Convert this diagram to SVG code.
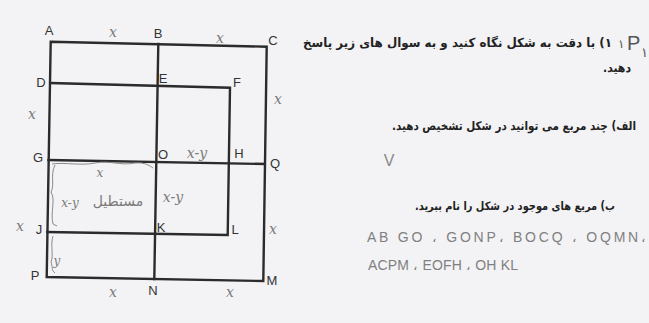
<svg xmlns="http://www.w3.org/2000/svg" width="649" height="323" viewBox="0 0 649 323">
<style>
.ln{stroke:#2b2b2b;stroke-width:2.4;fill:none;stroke-linecap:square;stroke-linejoin:miter}
.lb{font-family:"Liberation Sans",Arial,sans-serif;font-size:13px;fill:#333;text-anchor:middle}
.hw{font-family:"DejaVu Serif",serif;font-style:italic;font-size:14px;fill:#7a7a7a;text-anchor:middle}
.hwl{font-family:"Liberation Sans",Arial,sans-serif;font-size:14px;fill:#808080}
.hwp{stroke:#8a8a8a;stroke-width:1;fill:none}
.fa{font-family:"DejaVu Sans","Noto Sans",sans-serif;font-weight:bold;font-size:12.5px;fill:#222}
.hn{font-family:"DejaVu Sans",sans-serif;fill:#555}
</style>
<rect x="0" y="0" width="649" height="323" fill="#f3f3f5"/>

<g id="figure">
<path class="ln" d="M50.7,41.7 L266.7,46.7 L263.3,281 L46.7,277 Z"/>
<path class="ln" d="M158.3,44 L154.3,279"/>
<path class="ln" d="M50.3,83 L230,87.7 L227.7,235 L47.3,232"/>
<path class="ln" d="M48.5,160 L264.7,164"/>
</g>

<g id="labels">
<text class="lb" x="49" y="35">A</text>
<text class="lb" x="158" y="38">B</text>
<text class="lb" x="273" y="45">C</text>
<text class="lb" x="41" y="87">D</text>
<text class="lb" x="163" y="83">E</text>
<text class="lb" x="237" y="87">F</text>
<text class="lb" x="38" y="162">G</text>
<text class="lb" x="163" y="159">O</text>
<text class="lb" x="239" y="158">H</text>
<text class="lb" x="275" y="168">Q</text>
<text class="lb" x="39" y="234">J</text>
<text class="lb" x="161" y="232">K</text>
<text class="lb" x="235" y="234">L</text>
<text class="lb" x="35" y="280">P</text>
<text class="lb" x="153" y="295">N</text>
<text class="lb" x="272" y="285">M</text>
</g>

<g id="annotations">
<text class="hw" x="113" y="37">x</text>
<text class="hw" x="220" y="43">x</text>
<text class="hw" x="278" y="104">x</text>
<text class="hw" x="32" y="119">x</text>
<text class="hw" x="20" y="231">x</text>
<text class="hw" x="273" y="234">x</text>
<text class="hw" x="113" y="297">x</text>
<text class="hw" x="230" y="297">x</text>
<text class="hw" x="197" y="158">x-y</text>
<text class="hw" x="100" y="177" style="font-size:12px">x</text>
<text class="hw" x="70" y="207" style="font-size:12px">x-y</text>
<text class="hw" x="173" y="202">x-y</text>
<text class="hw" x="57" y="265" style="font-size:12px">y</text>
<text x="118" y="206" style="font-family:'DejaVu Sans',sans-serif;font-size:14px;fill:#7a7a7a;text-anchor:middle">مستطیل</text>
<path class="hwp" d="M52,164 C65,162 80,166 95,163 C110,160 120,166 135,163 C145,162 150,166 153,168"/>
<path class="hwp" d="M55,165 C50,175 55,185 51,192 C56,200 50,212 53,224 L57,226"/>
<path class="hwp" d="M53,236 C50,245 54,255 51,262 C53,267 51,270 55,273"/>
</g>

<g id="questions">
<text class="fa" x="612" y="47" direction="rtl" textLength="309" lengthAdjust="spacingAndGlyphs">۱) با دقت به شکل نگاه کنید و به سوال های زیر پاسخ</text>
<text class="hn" x="618" y="48" style="font-size:12px">۱</text>
<text x="627" y="50" style="font-family:'Liberation Sans',sans-serif;font-size:20px;fill:#555">P</text>
<text class="hn" x="641" y="57" style="font-size:13px">۱</text>
<text class="fa" x="631" y="72" direction="rtl" textLength="28" lengthAdjust="spacingAndGlyphs">دهید.</text>
<text class="fa" x="636" y="130" direction="rtl" textLength="244" lengthAdjust="spacingAndGlyphs" style="font-size:12px">الف) چند مربع می توانید در شکل تشخیص دهید.</text>
<text x="389" y="166" style="font-family:'Liberation Sans',sans-serif;font-size:16px;fill:#888;text-anchor:middle">V</text>
<text class="fa" x="615" y="210" direction="rtl" textLength="200" lengthAdjust="spacingAndGlyphs" style="font-size:11.5px">ب) مربع های موجود در شکل را نام ببرید.</text>
<text class="hwl" x="367" y="242" textLength="279" lengthAdjust="spacing">AB GO ، GONP، BOCQ ، OQMN،</text>
<text class="hwl" x="368" y="270" textLength="150" lengthAdjust="spacing">ACPM ، EOFH ، OH KL</text>
</g>
</svg>
